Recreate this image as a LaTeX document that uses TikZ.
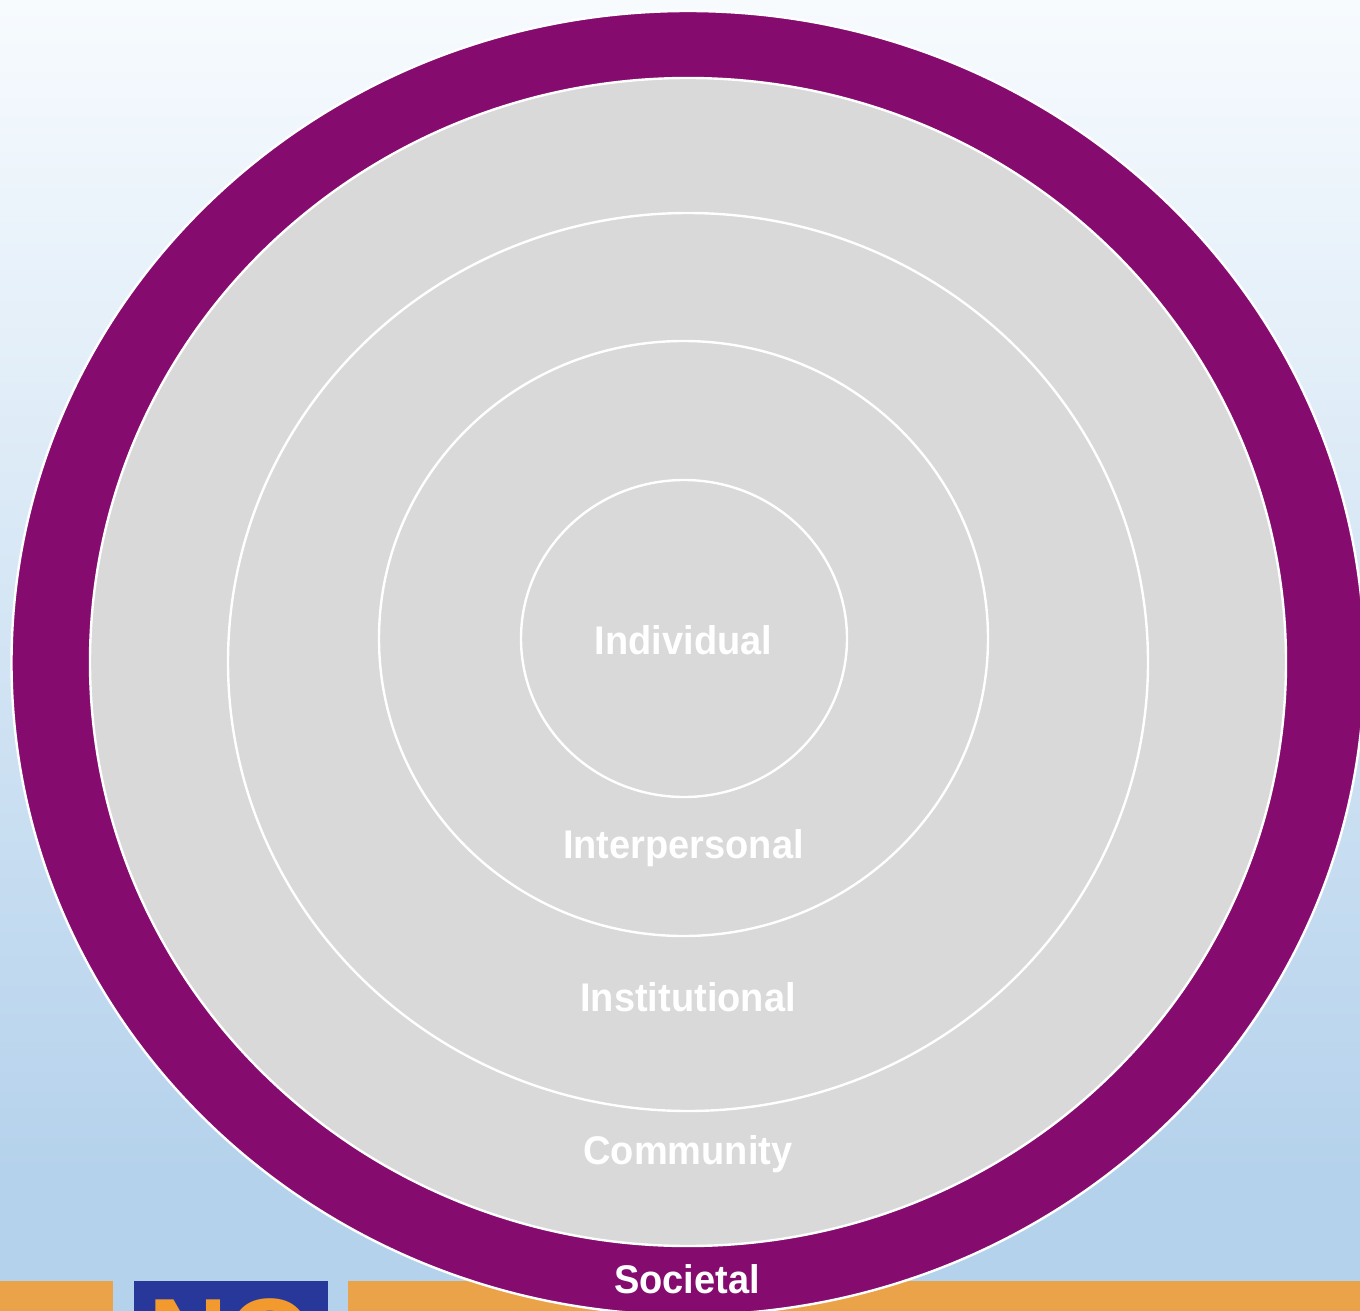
\documentclass[tikz,border=0pt]{standalone}
\usepackage{fontspec}
\setmainfont{Liberation Sans}
\definecolor{bgtop}{HTML}{F7FBFE}
\definecolor{bgbot}{HTML}{B5D2EC}
\definecolor{ringpurple}{HTML}{860B6E}
\definecolor{ringgrey}{HTML}{D9D9D9}
\definecolor{barorange}{HTML}{EBA349}
\definecolor{logoblue}{HTML}{27379A}
\definecolor{logoorange}{HTML}{F29A2E}
\tikzset{
  ringline/.style={draw=white,line width=2.4pt,fill=ringgrey},
  ringlabel/.style={text=white,font=\fontsize{40}{40}\selectfont\bfseries,xscale=0.95,inner sep=0,anchor=center},
}
\begin{document}
\begin{tikzpicture}[x=1pt,y=-1pt]
\useasboundingbox (0,0) rectangle (1360,1311);
\clip (0,0) rectangle (1360,1311);
\shade[top color=bgtop,bottom color=bgbot] (0,0) rectangle (1360,1170);
\fill[bgbot] (0,1169) rectangle (1360,1311);
\fill[barorange] (0,1281) rectangle (113,1311);
\fill[barorange] (348,1281) rectangle (1360,1311);
\fill[logoblue] (134,1281) rectangle (328,1311);
\begin{scope}
\clip (134,1281) rectangle (328,1311);
\node[text=logoorange,font=\fontsize{110}{110}\selectfont\bfseries,inner sep=0,anchor=base west] (logo) at (148,1375) {NO};
\end{scope}
\path[draw=white,line width=2.4pt,fill=ringpurple] (688,663) ellipse [x radius=676.5,y radius=652];
\path[ringline] (688,662) ellipse [x radius=598,y radius=584];
\path[ringline] (688,662) ellipse [x radius=460,y radius=449];
\path[ringline] (683.5,638.5) ellipse [x radius=304.5,y radius=297.5];
\path[ringline] (684,638.5) ellipse [x radius=163,y radius=158.5];
\node[ringlabel] (individual) at (683.5,640) {Individual};
\node[ringlabel] (interpersonal) at (683.5,848) {Interpersonal};
\node[ringlabel] (institutional) at (688,997) {Institutional};
\node[ringlabel] (community) at (688,1154) {Community};
\node[ringlabel] (societal) at (687,1279) {Societal};
\end{tikzpicture}
\end{document}
